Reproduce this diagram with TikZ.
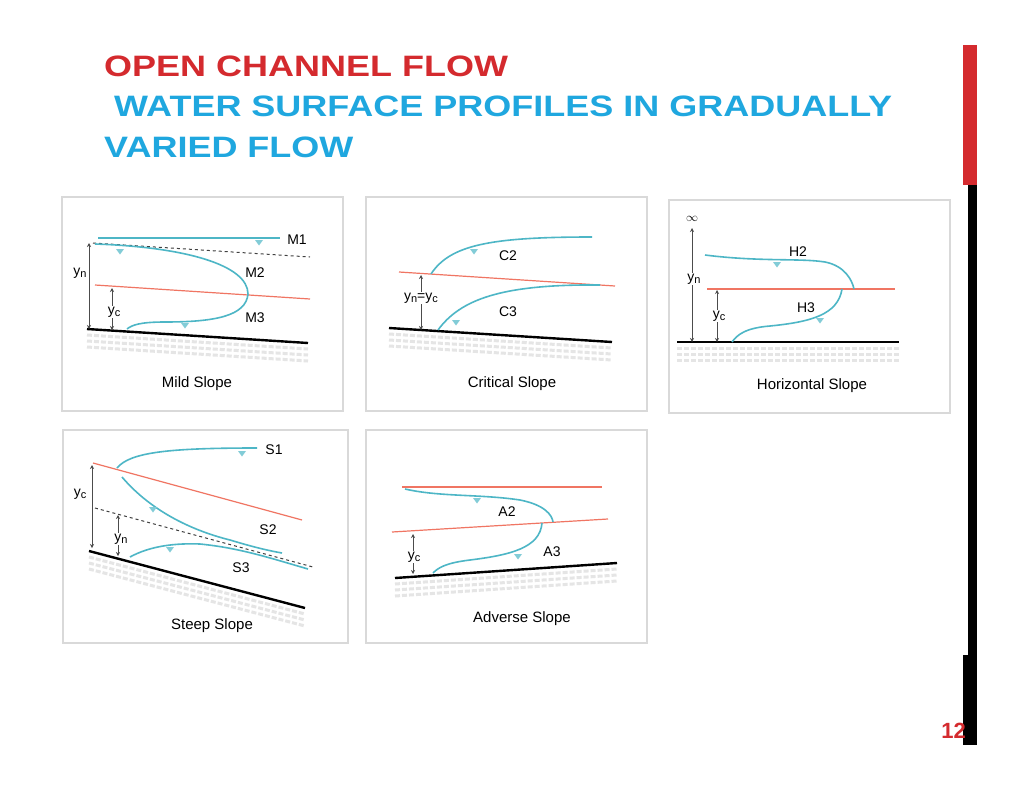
\documentclass[tikz,border=0pt]{standalone}
\usepackage{fontspec}
\setmainfont{Liberation Sans}
\usetikzlibrary{arrows.meta}
\definecolor{wcyan}{HTML}{4DB6C6}
\definecolor{wred}{HTML}{F07563}
\definecolor{tred}{HTML}{D42A2E}
\definecolor{tblue}{HTML}{1FA7DF}
\tikzset{
 panel/.style={draw=black!15,line width=1.5pt,fill=white},
 surf/.style={wcyan,line width=1.6pt},
 crit/.style={wred,line width=1.2pt},
 bed/.style={black,line width=2.4pt},
 norm/.style={black!75,dashed,line width=1pt},
 dim/.style={black!70,line width=0.6pt,{Stealth[length=4pt,width=4pt]}-{Stealth[length=4pt,width=4pt]}},
 lab/.style={font=\fontsize{14}{14}\selectfont,inner sep=0pt},
 captxt/.style={font=\fontsize{15}{15}\selectfont,inner sep=0pt},
 hatch/.style={black!10,line width=3pt,dash pattern=on 5pt off 2pt},
 ttl/.style={anchor=base west,inner sep=0pt,font=\fontsize{29.5}{29.5}\selectfont\bfseries},
}
\newcommand{\wtri}[2]{\fill[wcyan!70] (#1-4,#2-3) -- (#1+4,#2-3) -- (#1,#2+2.5) -- cycle;}
\newcommand{\ys}[1]{y\raisebox{-2.5pt}{\fontsize{11}{11}\selectfont #1}}
\begin{document}
\begin{tikzpicture}[x=1pt,y=-1pt]
\useasboundingbox (0,0) rectangle (1024,792);
\fill[white] (0,0) rectangle (1024,792);
% title
\node[ttl,text=tred] (t1) at (104,76) {\scalebox{1.22}[1]{OPEN CHANNEL FLOW}};
\node[ttl,text=tblue] (t2) at (104,116) {\scalebox{1.22}[1]{\ WATER SURFACE PROFILES IN GRADUALLY}};
\node[ttl,text=tblue] (t3) at (104,157) {\scalebox{1.22}[1]{VARIED FLOW}};
% right bar
\fill[tred] (963,45) rectangle (977,185);
\fill[black] (968,185) rectangle (977,655);
\fill[black] (963,655) rectangle (977,745);
\node[anchor=base east,inner sep=0pt,text=tred,font=\fontsize{22}{22}\selectfont\bfseries] (pg) at (966,738) {12};
% panels
\draw[panel] (62,197) rectangle (343,411);
\draw[panel] (366,197) rectangle (647,411);
\draw[panel] (669,200) rectangle (950,413);
\draw[panel] (63,430) rectangle (348,643);
\draw[panel] (366,430) rectangle (647,643);

% ---- Mild
\foreach \d in {6,12,18} \draw[hatch] (87,329+\d) -- (308,343+\d);
\draw[bed] (87,329) -- (308,343);
\draw[surf] (98,238) -- (280,238);
\draw[norm] (93,243) -- (310,257);
\draw[crit] (95,285) -- (310,299);
\draw[surf] (95,244) .. controls (185,247) and (248,265) .. (248,294) .. controls (246,316) and (215,322) .. (165,322) .. controls (140,322) and (132,325) .. (127,329);
\wtri{259}{243}\wtri{120}{252}\wtri{185}{326}
\node[lab] (m1) at (297,240) {M1};
\node[lab] (m2) at (255,273) {M2};
\node[lab] (m3) at (255,318) {M3};
\draw[dim] (89,243) -- (89,329);
\node[lab,fill=white,inner sep=1pt] (yn1) at (80,273) {\ys{n}};
\draw[dim] (112,288) -- (112,330);
\node[lab,fill=white,inner sep=1pt] (yc1) at (114,312) {\ys{c}};
\node[captxt] (c1) at (197,384) {Mild Slope};

% ---- Critical
\foreach \d in {6,12,18} \draw[hatch] (389,328+\d) -- (612,342+\d);
\draw[bed] (389,328) -- (612,342);
\draw[crit] (399,272) -- (615,286);
\draw[surf] (431,274) .. controls (450,245) and (490,237) .. (592,237);
\draw[surf] (438,330) .. controls (460,300) and (500,284) .. (600,285);
\wtri{474}{252}\wtri{456}{323}
\node[lab] (c2) at (508,256) {C2};
\node[lab] (c3) at (508,312) {C3};
\draw[dim] (421,275) -- (421,330);
\node[lab,fill=white,inner sep=1pt] (ync) at (421,298) {\ys{n}=\ys{c}};
\node[captxt] (c2c) at (512,384) {Critical Slope};

% ---- Horizontal
\foreach \d in {6,12,18} \draw[hatch] (677,342+\d) -- (899,342+\d);
\draw[bed] (677,342) -- (899,342);
\draw[crit] (707,289) -- (895,289);
\draw[surf] (705,255) .. controls (760,262) and (800,258) .. (825,262) .. controls (845,266) and (852,280) .. (854,289);
\draw[surf] (842,289) .. controls (838,315) and (810,322) .. (770,326) .. controls (745,328) and (737,335) .. (732,342);
\wtri{777}{265}\wtri{820}{321}
\node[lab] (h2) at (798,252) {H2};
\node[lab] (h3) at (806,308) {H3};
\node[inner sep=0pt,font=\fontsize{13}{13}\selectfont] (inf) at (692,219) {$\infty$};
\draw[dim] (692,228) -- (692,342);
\node[lab,fill=white,inner sep=1pt] (yn3) at (694,279) {\ys{n}};
\draw[dim] (717,290) -- (717,342);
\node[lab,fill=white,inner sep=1pt] (yc3) at (719,316) {\ys{c}};
\node[captxt] (c3c) at (812,386) {Horizontal Slope};

% ---- Steep
\foreach \d in {6,12,18} \draw[hatch] (89,551+\d) -- (305,608+\d);
\draw[bed] (89,551) -- (305,608);
\draw[crit] (93,463) -- (302,520);
\draw[norm] (95,508) -- (313,567);
\draw[surf] (117,468) .. controls (130,452) and (170,448) .. (257,448);
\draw[surf] (122,477) .. controls (150,510) and (190,530) .. (230,540) .. controls (250,546) and (265,550) .. (282,553);
\draw[surf] (130,557) .. controls (150,546) and (175,543) .. (200,544) .. controls (240,548) and (270,558) .. (308,569);
\wtri{242}{454}\wtri{153}{510}\wtri{170}{550}
\node[lab] (s1) at (274,450) {S1};
\node[lab] (s2) at (268,530) {S2};
\node[lab] (s3) at (241,568) {S3};
\draw[dim] (92,465) -- (92,548);
\node[lab,fill=white,inner sep=1pt] (yc4) at (80,494) {\ys{c}};
\draw[dim] (118,515) -- (118,556);
\node[lab,fill=white,inner sep=1pt] (yn4) at (121,539) {\ys{n}};
\node[captxt] (c4) at (212,626) {Steep Slope};

% ---- Adverse
\foreach \d in {6,12,18} \draw[hatch] (395,578+\d) -- (617,563+\d);
\draw[bed] (395,578) -- (617,563);
\draw[crit] (402,487) -- (602,487);
\draw[crit] (392,532) -- (608,519);
\draw[surf] (405,489) .. controls (440,497) and (480,494) .. (520,500) .. controls (545,505) and (552,515) .. (553,522);
\draw[surf] (542,523) .. controls (540,548) and (510,555) .. (470,560) .. controls (445,563) and (438,568) .. (433,573);
\wtri{477}{501}\wtri{518}{557}
\node[lab] (a2) at (507,512) {A2};
\node[lab] (a3) at (552,552) {A3};
\draw[dim] (413,534) -- (413,574);
\node[lab,fill=white,inner sep=1pt] (yc5) at (414,557) {\ys{c}};
\node[captxt] (c5) at (522,619) {Adverse Slope};
\end{tikzpicture}
\end{document}
